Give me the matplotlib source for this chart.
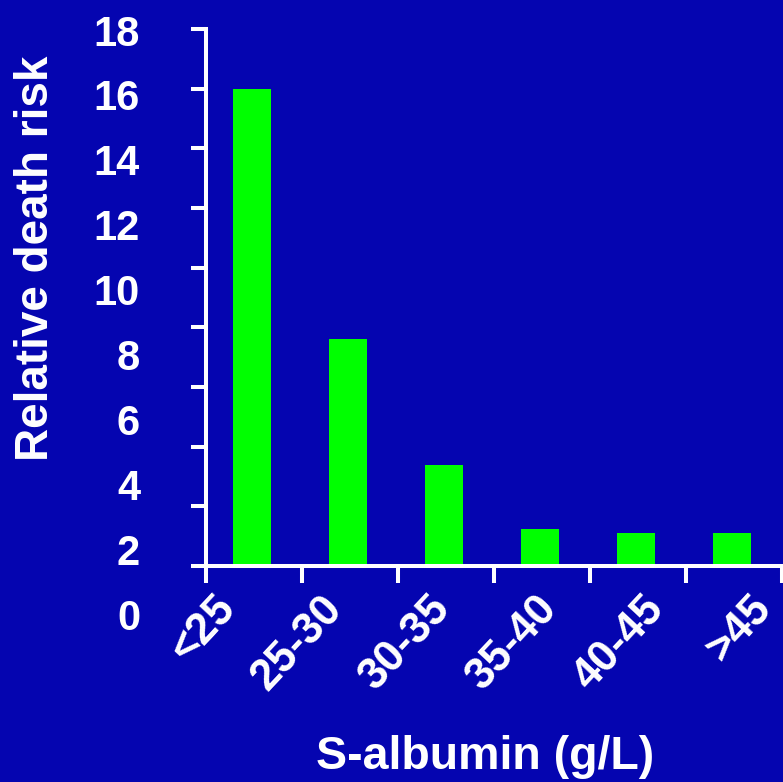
import numpy as np
import matplotlib
matplotlib.use("Agg")
import matplotlib.pyplot as plt

# data
categories = ["<25", "25-30", "30-35", "35-40", "40-45", ">45"]
risk = [16.0, 7.6, 3.4, 1.25, 1.1, 1.1]
yticks = [0, 2, 4, 6, 8, 10, 12, 14, 16, 18]

BG = "#0505B0"
GREEN = "#00FF00"
W, H = 783, 782

font = dict(family="Liberation Sans", weight="bold")


def rect(l, t, r, b):
    # pixel box -> figure fraction
    return [l / W, 1 - b / H, (r - l) / W, (b - t) / H]


def hide(a):
    a.patch.set_visible(False)
    for s in a.spines.values():
        s.set_visible(False)


fig = plt.figure(figsize=(W / 100, H / 100), dpi=100, facecolor=BG)

# main axes with bars and tick marks
ax = fig.add_axes(rect(206, 29, 782, 566))
ax.set_facecolor(BG)
x = np.arange(len(categories)) + 0.48
ax.bar(x, risk, width=0.4, color=GREEN, zorder=2)
ax.set_xlim(0, 6)
ax.set_ylim(0, 18)
ax.set_xticks(np.arange(len(categories) + 1))
ax.set_xticklabels([])
ax.set_yticks(yticks)
ax.set_yticklabels([])
for s in ["top", "right"]:
    ax.spines[s].set_visible(False)
for s in ["left", "bottom"]:
    ax.spines[s].set_color("white")
    ax.spines[s].set_linewidth(2.9)
    ax.spines[s].set_zorder(3)
ax.tick_params(axis="x", direction="out", length=12.2, width=2.9, color="white")
ax.tick_params(axis="y", direction="out", length=10.8, width=2.9, color="white")

# y tick labels sit on their own (slightly stretched) scale, like the original
ylab = fig.add_axes(rect(206, 30, 782, 614))
hide(ylab)
ylab.set_ylim(0, 18)
ylab.set_yticks(yticks)
ylab.set_yticklabels([str(v) for v in yticks], color="white", fontsize=30, **font)
ylab.tick_params(axis="y", length=0, pad=47.5)
ylab.set_xticks([])

# x tick labels, also on their own spacing
xlab = fig.add_axes(rect(190, 29, 779, 566))
hide(xlab)
xlab.set_xlim(0, 5.5)
xlab.set_xticks(np.arange(len(categories)) + 0.5)
xlab.set_xticklabels(categories, color="white", fontsize=31.5, rotation=47,
                     ha="right", va="top", **font)
xlab.tick_params(axis="x", length=0, pad=16)
xlab.set_yticks([])

fig.text(36 / W, 1 - 258 / H, "Relative death risk", rotation=90, ha="center",
         va="center", color="white", fontsize=33, **font)
fig.text(485 / W, 1 - 757 / H, "S-albumin (g/L)", ha="center", va="center",
         color="white", fontsize=33.5, **font)

fig.savefig("out.png", dpi=100, facecolor=BG)
